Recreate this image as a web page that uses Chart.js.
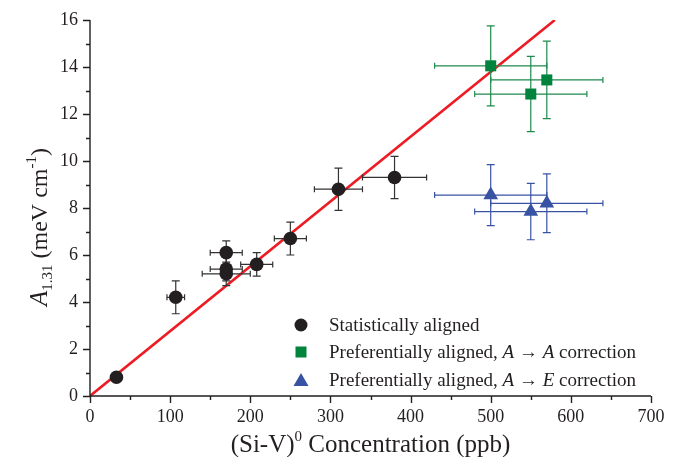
<!DOCTYPE html>
<html>
<head>
<meta charset="utf-8">
<script src="https://cdn.jsdelivr.net/npm/chart.js@4.4.0/dist/chart.umd.min.js"></script>
<style>
  body { margin: 0; background: #fff; }
  canvas { display: block; }
</style>
</head>
<body>
<canvas id="siVChart" width="681" height="457"></canvas>
<script>
// statistically aligned samples
const statX = [33, 107, 170, 170, 170, 208, 250, 310, 380];
const statY = [0.8, 4.2, 6.1, 5.4, 5.2, 5.6, 6.7, 8.8, 9.3];
const statXErr = [0, 11, 20, 20, 30, 20, 20, 30, 40];
const statYErr = [0, 0.7, 0.5, 0.5, 0.5, 0.5, 0.7, 0.9, 0.9];

// preferentially aligned, A -> A correction
const aaX = [500, 550, 570];
const aaY = [14.05, 12.85, 13.45];
const aaXErr = [70, 70, 70];
const aaYErr = [1.7, 1.6, 1.65];

// preferentially aligned, A -> E correction
const aeX = [500, 550, 570];
const aeY = [8.55, 7.85, 8.2];
const aeXErr = [70, 70, 70];
const aeYErr = [1.3, 1.2, 1.25];

// linear fit through origin
const fitX = [0, 580];
const fitY = [0, 16];

const xTicks = [0, 100, 200, 300, 400, 500, 600, 700];
const yTicks = [0, 2, 4, 6, 8, 10, 12, 14, 16];

const SERIF = '"Liberation Serif", "DejaVu Serif", serif';
const BLACK = '#231f20';
const GREEN = '#00843d';
const BLUE = '#3953a4';

const toPoints = (xs, ys) => xs.map((x, i) => ({ x, y: ys[i] }));

// draws text made of several runs with different fonts / offsets
function drawRuns(ctx, runs, x, y, align) {
  let total = 0;
  runs.forEach(r => { ctx.font = r.font; total += ctx.measureText(r.t).width; });
  let cx = align === 'center' ? x - total / 2 : x;
  ctx.textAlign = 'left';
  ctx.textBaseline = 'alphabetic';
  runs.forEach(r => {
    ctx.font = r.font;
    ctx.fillText(r.t, cx, y + (r.dy || 0));
    cx += ctx.measureText(r.t).width;
  });
}

const errorBars = {
  id: 'errorBars',
  beforeDatasetDraw(chart, args) {
    const ds = chart.data.datasets[args.index];
    if (!ds.xErr) return;
    const { ctx, scales: { x, y } } = chart;
    ctx.save();
    ctx.strokeStyle = ds.errColor;
    ctx.lineWidth = 1.2;
    ds.data.forEach((p, i) => {
      const px = x.getPixelForValue(p.x);
      const py = y.getPixelForValue(p.y);
      const dx = ds.xErr[i], dy = ds.yErr[i];
      ctx.beginPath();
      if (dx) {
        const x0 = x.getPixelForValue(p.x - dx), x1 = x.getPixelForValue(p.x + dx);
        ctx.moveTo(x0, py); ctx.lineTo(x1, py);
        ctx.moveTo(x0, py - 3); ctx.lineTo(x0, py + 3);
        ctx.moveTo(x1, py - 3); ctx.lineTo(x1, py + 3);
      }
      if (dy) {
        const y0 = y.getPixelForValue(p.y - dy), y1 = y.getPixelForValue(p.y + dy);
        ctx.moveTo(px, y0); ctx.lineTo(px, y1);
        ctx.moveTo(px - 4, y0); ctx.lineTo(px + 4, y0);
        ctx.moveTo(px - 4, y1); ctx.lineTo(px + 4, y1);
      }
      ctx.stroke();
    });
    ctx.restore();
  }
};

const axesAndText = {
  id: 'axesAndText',
  afterDraw(chart) {
    const { ctx, chartArea: a, scales: { x, y } } = chart;
    ctx.save();
    ctx.strokeStyle = BLACK;
    ctx.lineWidth = 1.4;
    ctx.beginPath();
    ctx.moveTo(a.left, a.top); ctx.lineTo(a.left, a.bottom); ctx.lineTo(a.right, a.bottom);
    // x ticks, major every 100 and minor every 50
    for (let v = 0; v <= 700; v += 50) {
      const px = Math.round(x.getPixelForValue(v)) + 0.5;
      ctx.moveTo(px, a.bottom); ctx.lineTo(px, a.bottom + (v % 100 === 0 ? 7 : 4));
    }
    for (let v = 0; v <= 16; v += 1) {
      const py = Math.round(y.getPixelForValue(v)) + 0.5;
      ctx.moveTo(a.left, py); ctx.lineTo(a.left - (v % 2 === 0 ? 7 : 4), py);
    }
    ctx.stroke();

    ctx.fillStyle = BLACK;
    // x title
    drawRuns(ctx, [
      { t: '(Si-V)', font: '25px ' + SERIF },
      { t: '0', font: '15px ' + SERIF, dy: -11 },
      { t: ' Concentration (ppb)', font: '25px ' + SERIF }
    ], (a.left + a.right) / 2, 452, 'center');

    // y title
    ctx.save();
    ctx.translate(47, 227);
    ctx.rotate(-Math.PI / 2);
    drawRuns(ctx, [
      { t: 'A', font: 'italic 25px ' + SERIF },
      { t: '1.31', font: '15px ' + SERIF, dy: 5 },
      { t: ' (meV cm', font: '24px ' + SERIF },
      { t: '-1', font: '15px ' + SERIF, dy: -11 },
      { t: ')', font: '24px ' + SERIF }
    ], 0, 0, 'center');
    ctx.restore();

    // legend
    const lx = 301, tx = 329;
    const rows = [325, 352, 380];
    ctx.fillStyle = BLACK;
    ctx.beginPath(); ctx.arc(lx, rows[0], 6.5, 0, Math.PI * 2); ctx.fill();
    ctx.fillStyle = GREEN;
    ctx.fillRect(lx - 5.5, rows[1] - 5.5, 11, 11);
    ctx.fillStyle = BLUE;
    ctx.beginPath();
    ctx.moveTo(lx, rows[2] - 7); ctx.lineTo(lx + 7.5, rows[2] + 6); ctx.lineTo(lx - 7.5, rows[2] + 6);
    ctx.closePath(); ctx.fill();

    ctx.fillStyle = BLACK;
    const f = '19px ' + SERIF, fi = 'italic 19px ' + SERIF;
    drawRuns(ctx, [{ t: 'Statistically aligned', font: f }], tx, rows[0] + 6, 'left');
    drawRuns(ctx, [
      { t: 'Preferentially aligned, ', font: f }, { t: 'A', font: fi },
      { t: ' \u2192 ', font: f }, { t: 'A', font: fi }, { t: ' correction', font: f }
    ], tx, rows[1] + 6, 'left');
    drawRuns(ctx, [
      { t: 'Preferentially aligned, ', font: f }, { t: 'A', font: fi },
      { t: ' \u2192 ', font: f }, { t: 'E', font: fi }, { t: ' correction', font: f }
    ], tx, rows[2] + 6, 'left');
    ctx.restore();
  }
};

const tickFont = { family: SERIF, size: 18 };

new Chart(document.getElementById('siVChart'), {
  type: 'scatter',
  data: {
    datasets: [
      {
        type: 'line', label: 'fit', data: toPoints(fitX, fitY),
        borderColor: '#ed1c24', borderWidth: 2.6, pointRadius: 0, fill: false, order: 10
      },
      {
        label: 'Statistically aligned', data: toPoints(statX, statY),
        xErr: statXErr, yErr: statYErr, errColor: '#333',
        pointStyle: 'circle', pointRadius: 6.8, backgroundColor: BLACK, borderWidth: 0, order: 1
      },
      {
        label: 'Preferentially aligned, A -> A correction', data: toPoints(aaX, aaY),
        xErr: aaXErr, yErr: aaYErr, errColor: '#1e8a4c',
        pointStyle: 'rect', pointRadius: 7.8, backgroundColor: GREEN, borderWidth: 0, order: 2
      },
      {
        label: 'Preferentially aligned, A -> E correction', data: toPoints(aeX, aeY),
        xErr: aeXErr, yErr: aeYErr, errColor: BLUE,
        pointStyle: 'triangle', pointRadius: 8.5, backgroundColor: BLUE, borderWidth: 0, order: 3
      }
    ]
  },
  options: {
    responsive: false,
    animation: false,
    layout: { padding: { top: 20, right: 30, left: 0, bottom: 0 } },
    scales: {
      x: {
        type: 'linear', min: 0, max: 700,
        afterBuildTicks: s => { s.ticks = xTicks.map(v => ({ value: v })); },
        ticks: { font: tickFont, color: BLACK, padding: 2, maxRotation: 0 },
        grid: { display: true, drawOnChartArea: false, color: 'rgba(0,0,0,0)', tickLength: 8 },
        border: { display: false },
        afterFit: s => { s.height = 61; }
      },
      y: {
        type: 'linear', min: 0, max: 16,
        afterBuildTicks: s => { s.ticks = yTicks.map(v => ({ value: v })); },
        ticks: { font: tickFont, color: BLACK, padding: 4 },
        grid: { display: true, drawOnChartArea: false, color: 'rgba(0,0,0,0)', tickLength: 8 },
        border: { display: false },
        afterFit: s => { s.width = 90; }
      }
    },
    plugins: { legend: { display: false }, tooltip: { enabled: false } }
  },
  plugins: [errorBars, axesAndText]
});
</script>
</body>
</html>
